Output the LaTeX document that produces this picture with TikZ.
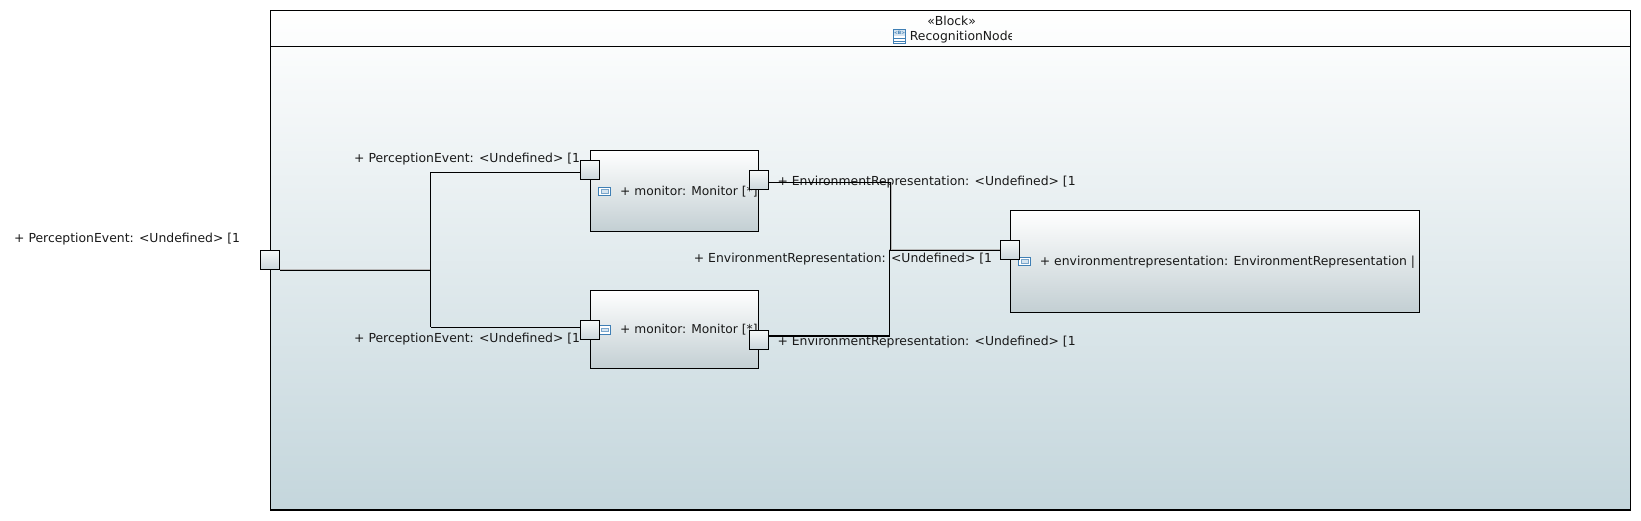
\documentclass[tikz,border=0pt]{standalone}
\usepackage{tikz, xcolor}
\usepackage{fontspec}
\setmainfont{DejaVu Sans}
\definecolor{blockbottom}{HTML}{C4D6DC}
\definecolor{partbottom}{HTML}{C3CFD3}
\definecolor{porttop}{HTML}{F6F8F8}
\definecolor{portbottom}{HTML}{CBD6DB}
\definecolor{iconblue}{HTML}{3F7FB5}
\definecolor{iconfill}{HTML}{D5E4F0}
\tikzset{
  block/.style={draw, line width=1.1pt, rectangle, inner sep=0pt, top color=white, bottom color=blockbottom},
  part/.style={draw, line width=1.1pt, rectangle, inner sep=0pt, top color=white, bottom color=partbottom},
  port/.style={draw, line width=1.1pt, rectangle, inner sep=0pt, minimum width=19pt, minimum height=19pt, top color=porttop, bottom color=portbottom},
  label/.style={inner sep=0pt, anchor=base west, font=\fontsize{12.4}{14}\selectfont, text=black!90},
  partlabel/.style={label, font=\fontsize{12.25}{14}\selectfont},
  wire/.style={line width=1.1pt},
  wireshadow/.style={line width=1pt, draw=black!28},
  particon/.style={draw=iconblue, line width=1.1pt, fill=white, rectangle, inner sep=0pt, minimum width=12.5pt, minimum height=8.5pt},
  particoninner/.style={draw=iconblue!70, line width=.6pt, fill=iconfill, rectangle, inner sep=0pt, minimum width=7.5pt, minimum height=3.5pt},
}
\begin{document}
\begin{tikzpicture}[x=1pt,y=-1pt]
\useasboundingbox (0,0) rectangle (1641,521);
% block
\node[block, minimum width=1360pt, minimum height=499.5pt] (recognition) at (950.5,260.25) {};
\coordinate (headerleft) at (270.5,46.3);
\coordinate (headerright) at (1630.5,46.3);
\draw[line width=1.1pt] (headerleft) -- (headerright);
\node[label, anchor=base] (stereotype) at (951.7,25.2) {«Block»};
\begin{scope}
\clip (890,28) rectangle (1011.7,45);
\node[label] (blockname) at (909.7,40.8) {RecognitionNode};
\end{scope}
% block icon
\node[draw=iconblue, line width=.9pt, fill=white, minimum width=12pt, minimum height=14.5pt, inner sep=0pt] (blockicon) at (899.7,36.4) {};
\node[fill=iconfill, text=iconblue, minimum width=10pt, minimum height=5.5pt, inner sep=0pt, font=\fontsize{4.5}{4.5}\selectfont\bfseries] (blockiconb) at (899.7,33.2) {<B>};
\draw[iconblue, line width=.8pt] (blockicon.west |- 0,38.6) -- (blockicon.east |- 0,38.6);
\draw[iconblue, line width=.8pt] (blockicon.west |- 0,41.2) -- (blockicon.east |- 0,41.2);
% parts
\node[part, minimum width=168pt, minimum height=81pt] (monitorA) at (674.3,190.8) {};
\node[part, minimum width=168pt, minimum height=78pt] (monitorB) at (674.3,329.3) {};
\node[part, minimum width=409pt, minimum height=102pt] (envrep) at (1214.8,261.3) {};
% part texts
\node[particon] (iconA) at (604.6,191.5) {};
\node[particoninner] (iconAin) at (iconA) {};
\node[particon] (iconB) at (604.6,329.8) {};
\node[particoninner] (iconBin) at (iconB) {};
\node[particon] (iconC) at (1024.6,261.5) {};
\node[particoninner] (iconCin) at (iconC) {};
\node[partlabel] (monitorAtext) at (620,195.6) {+ monitor: Monitor [*]};
\node[partlabel] (monitorBtext) at (620,333.6) {+ monitor: Monitor [*]};
\node[label] (envreptext) at (1039.7,265.6) {+ environmentrepresentation: EnvironmentRepresentation |};
% port labels
\node[label] (outerlabel) at (14,242.6) {+ PerceptionEvent: <Undefined> [1};
\node[label] (inlabelA) at (354,162.6) {+ PerceptionEvent: <Undefined> [1};
\node[label] (inlabelB) at (354,342.6) {+ PerceptionEvent: <Undefined> [1};
\node[label] (outlabelA) at (777.3,185.6) {+ EnvironmentRepresentation: <Undefined> [1};
\node[label] (outlabelB) at (777.3,345.6) {+ EnvironmentRepresentation: <Undefined> [1};
\node[label] (envlabel) at (693.7,262.6) {+ EnvironmentRepresentation: <Undefined> [1};
% ports
\node[port] (outerport) at (270,259.8) {};
\node[port] (monitorAin) at (589.8,169.8) {};
\node[port] (monitorAout) at (759,180.2) {};
\node[port] (monitorBin) at (589.8,329.8) {};
\node[port] (monitorBout) at (759,339.8) {};
\node[port] (envport) at (1010,249.8) {};
% wires
\coordinate (split) at (430.5,270.5);
\coordinate (splittop) at (430.5,172.3);
\coordinate (splitbottom) at (430.5,327.3);
\coordinate (mergetop) at (890.3,182.3);
\coordinate (mergemid) at (890.3,250.3);
\coordinate (mergelow) at (889.3,250.3);
\coordinate (mergebottom) at (889.3,336);
\draw[wireshadow] ([yshift=1pt]split -| outerport.east) -- ([yshift=1pt]split);
\draw[wireshadow] ([xshift=1pt]mergetop) -- ([xshift=1pt]mergemid);
\draw[wireshadow] ([yshift=1pt]mergelow) -- ([yshift=1pt]mergelow -| envport.west);
\draw[wireshadow] ([yshift=1pt]mergebottom) -- ([yshift=1pt]mergebottom -| monitorBout.east);
\draw[wire] (split -| outerport.east) -- (split);
\draw[wire] (splittop) -- (splitbottom);
\draw[wire] (splittop) -- (splittop -| monitorAin.west);
\draw[wire] (splitbottom) -- (splitbottom -| monitorBin.west);
\draw[wire] (mergetop -| monitorAout.east) -- (mergetop) -- (mergemid);
\draw[wire] (mergebottom -| monitorBout.east) -- (mergebottom) -- (mergelow);
\draw[wire] (mergelow) -- (mergelow -| envport.west);
\end{tikzpicture}
\end{document}
